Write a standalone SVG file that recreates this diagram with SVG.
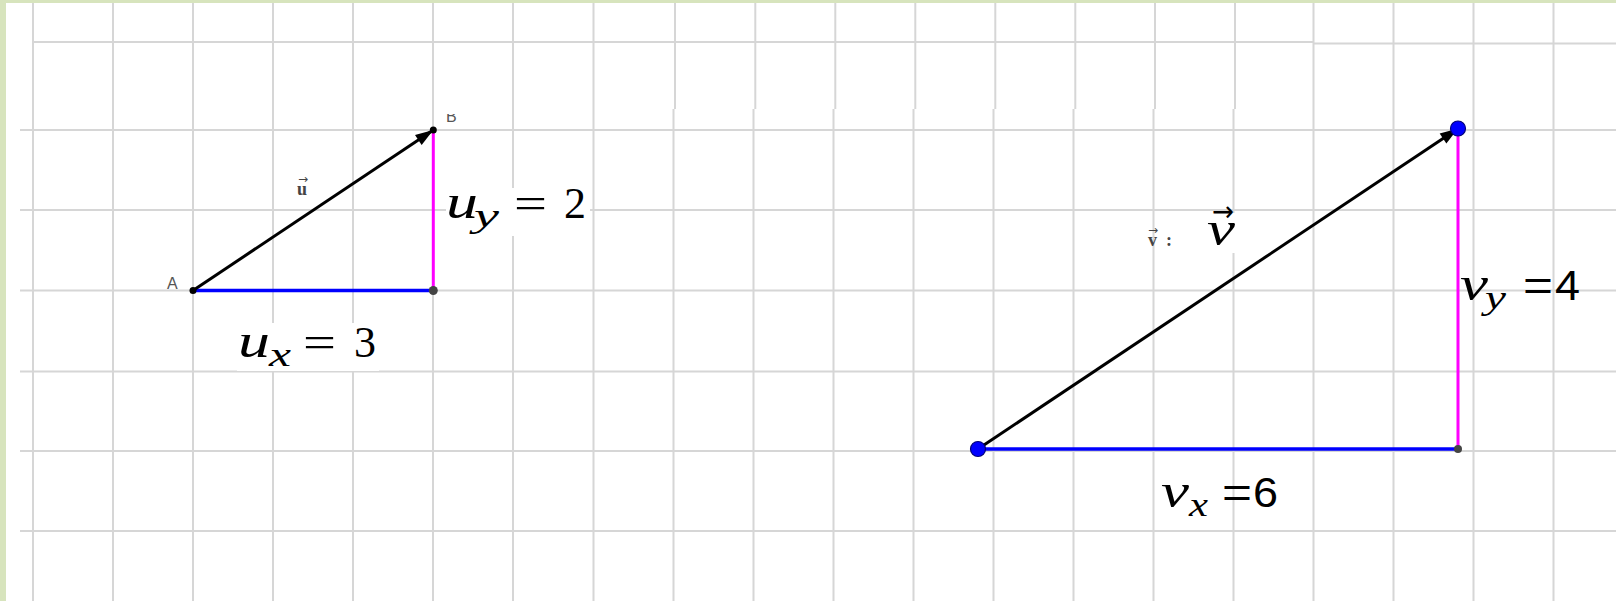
<svg xmlns="http://www.w3.org/2000/svg" width="1616" height="601" viewBox="0 0 1616 601">
<style>
.grid path{stroke:#d6d6d6;stroke-width:2;fill:none}
.bg{fill:#ffffff}
.vec{stroke:#000;stroke-width:3;fill:none}
.hx{stroke:#0000ff;stroke-width:3.5;fill:none}
.hy{stroke:#ff00ff;stroke-width:3;fill:none}
.pt{fill:#000}
.ptg{fill:#444}
.ptb{fill:#0000ff;stroke:#00007a;stroke-width:1.2}
.lbl{font-family:"Liberation Sans",Arial,sans-serif;font-size:16px;fill:#555}
.it{font-family:"Liberation Serif","Times New Roman",serif;font-style:italic;font-size:48px;fill:#000}
.sub{font-family:"Liberation Serif","Times New Roman",serif;font-style:italic;font-size:33px;fill:#000}
.num{font-family:"Liberation Serif","Times New Roman",serif;font-size:44px;fill:#000}
.sans{font-family:"Liberation Sans",Arial,sans-serif;font-size:42px;fill:#000}
.acc{font-family:"DejaVu Sans",sans-serif;font-size:28px;font-style:normal;fill:#000}
.small{font-family:"Liberation Serif",serif;font-weight:bold;font-size:18px;fill:#444}
.sacc{font-family:"DejaVu Sans",sans-serif;font-size:12px;font-weight:normal}
</style>
<defs>
<marker id="ah" markerUnits="userSpaceOnUse" markerWidth="40" markerHeight="40" refX="0" refY="0" orient="auto" overflow="visible">
<path d="M0,0 L-18,-6 L-18,6 Z" fill="#000"/>
</marker>
<clipPath id="clipB"><rect x="440" y="114" width="30" height="12"/></clipPath>
</defs>
<rect class="bg" x="0" y="0" width="1616" height="601"/>
<rect x="0" y="0" width="1616" height="3" fill="#d7e4bd"/>
<rect x="0" y="0" width="6" height="601" fill="#d7e4bd"/>
<g id="grid" class="grid">
<path d="M33,42 H1313 M1313,43.5 H1616 M20,130 H1616 M20,210 H1616 M20,290.5 H1616 M20,371.5 H1616 M20,451 H1616 M20,531 H1616"/>
<path d="M33,3 V601 M113,3 V601 M193,3 V601 M273,3 V601 M353,3 V601 M433,3 V601 M513,3 V601 M593.5,3 V601"/>
<path d="M673.5,109 V601 M753.5,109 V601 M833.5,109 V601 M913.5,109 V601 M993.5,109 V601 M1073.5,109 V601 M1153.5,109 V601 M1233.5,109 V601"/>
<path d="M675,3 V109 M755.3,3 V109 M835.3,3 V109 M915.3,3 V109 M995.3,3 V109 M1075.3,3 V109 M1155,3 V109 M1235,3 V109"/>
<path d="M1313.5,3 V601 M1393.5,3 V601 M1473.5,3 V601 M1553.5,3 V601"/>
</g>
<g id="label-boxes">
<rect class="bg" x="446" y="188" width="144" height="48"/>
<rect class="bg" x="237" y="323" width="142" height="48"/>
<rect class="bg" x="1203" y="213" width="36" height="40"/>
</g>
<g id="connectors">
<path id="seg-ux" class="hx" d="M193,290.5 H433.3"/>
<path id="seg-uy" class="hy" d="M433.3,130 V290.5"/>
<path id="vec-u" class="vec" d="M193,290.5 L433.3,130" marker-end="url(#ah)"/>
<path id="seg-vx" class="hx" d="M978,449 H1458"/>
<path id="seg-vy" class="hy" d="M1458,128.5 V449"/>
<path id="vec-v" class="vec" d="M978,449 L1458,128.5" marker-end="url(#ah)"/>
</g>
<g id="node-A">
<circle class="pt" cx="193" cy="290.5" r="3.5"/>
<text class="lbl" x="167" y="289">A</text>
</g>
<g id="node-B">
<circle class="pt" cx="433.3" cy="130" r="3.5"/>
<text class="lbl" x="446" y="121.5" clip-path="url(#clipB)">B</text>
</g>
<g id="node-C">
<circle class="ptg" cx="433.3" cy="290.5" r="4.5"/>
</g>
<g id="node-D">
<circle class="ptb" cx="978" cy="449" r="7.5"/>
</g>
<g id="node-E">
<circle class="ptb" cx="1458" cy="128.5" r="7.5"/>
</g>
<g id="node-F">
<circle class="ptg" cx="1458" cy="449" r="4"/>
</g>
<g id="label-u">
<text class="small" x="297" y="195">u<tspan class="sacc" x="298" y="183">→</tspan></text>
</g>
<g id="label-uy">
<text class="it" x="446" y="218" textLength="32" lengthAdjust="spacingAndGlyphs">u</text>
<text class="sub" x="474" y="227" textLength="25" lengthAdjust="spacingAndGlyphs">y</text>
<text class="num" x="514" y="218" textLength="33" lengthAdjust="spacingAndGlyphs">=</text>
<text class="num" x="564" y="218">2</text>
</g>
<g id="label-ux">
<text class="it" x="238" y="357" textLength="32" lengthAdjust="spacingAndGlyphs">u</text>
<text class="sub" x="269" y="366" textLength="22" lengthAdjust="spacingAndGlyphs">x</text>
<text class="num" x="303" y="357" textLength="33" lengthAdjust="spacingAndGlyphs">=</text>
<text class="num" x="354" y="357">3</text>
</g>
<g id="label-v">
<text class="small" x="1148" y="246">v<tspan class="sacc" x="1148" y="234">→</tspan></text>
<text class="small" x="1166" y="246" fill="#c8c8c8">:</text>
<text class="it" x="1207" y="245"><tspan textLength="28" lengthAdjust="spacingAndGlyphs">v</tspan><tspan class="acc" x="1212" y="221" textLength="22" lengthAdjust="spacingAndGlyphs">→</tspan></text>
</g>
<g id="label-vx">
<text class="it" x="1161" y="507" textLength="28" lengthAdjust="spacingAndGlyphs">v</text>
<text class="sub" x="1189" y="516" textLength="19" lengthAdjust="spacingAndGlyphs">x</text>
<text class="sans" x="1222" y="507" textLength="30" lengthAdjust="spacingAndGlyphs">=</text>
<text class="sans" x="1253" y="507" textLength="25" lengthAdjust="spacingAndGlyphs">6</text>
</g>
<g id="label-vy">
<text class="it" x="1460" y="300" textLength="28" lengthAdjust="spacingAndGlyphs">v</text>
<text class="sub" x="1485" y="309" textLength="21" lengthAdjust="spacingAndGlyphs">y</text>
<text class="sans" x="1523" y="300" textLength="30" lengthAdjust="spacingAndGlyphs">=</text>
<text class="sans" x="1555" y="300" textLength="25" lengthAdjust="spacingAndGlyphs">4</text>
</g>
</svg>
